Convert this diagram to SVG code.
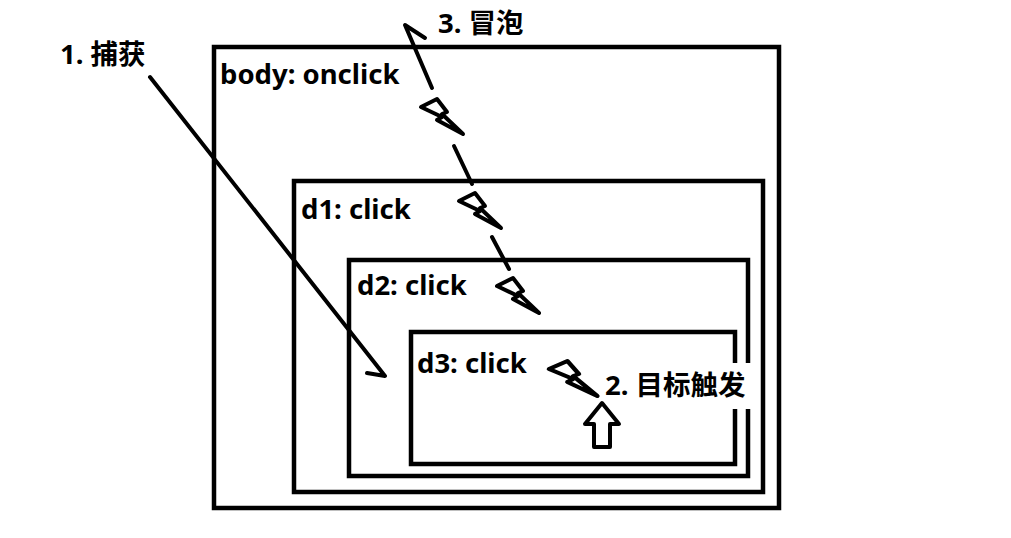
<svg xmlns="http://www.w3.org/2000/svg" width="1011" height="538" viewBox="0 0 1011 538">
<style>
.box{fill:none;stroke:#000;stroke-width:4.5}
.lbl{font-family:"Noto Sans","Noto Sans CJK SC",sans-serif;font-weight:bold;font-size:27.5px;fill:#000}
.ln{fill:none;stroke:#000;stroke-width:4;stroke-linecap:round;stroke-linejoin:round}
.bolt{fill:#fff;stroke:#000;stroke-width:4;stroke-linejoin:round}
</style>
<defs>
<path id="boltshape" d="M0,8 L16,0 L26,13 L21,15 L42,35 L16,21 L21,18 Z"/>
</defs>
<rect width="1011" height="538" fill="#fff"/>
<g id="body">
<rect class="box" x="214" y="47" width="565" height="461"/>
<text class="lbl" x="220" y="84">body: onclick</text>
</g>
<g id="d1">
<rect class="box" x="294" y="181" width="469" height="311"/>
<text class="lbl" x="301" y="219">d1: click</text>
</g>
<g id="d2">
<rect class="box" x="349" y="260" width="399" height="216"/>
<text class="lbl" x="357" y="295">d2: click</text>
</g>
<g id="d3">
<rect class="box" x="411" y="332" width="324" height="132"/>
<text class="lbl" x="417" y="373">d3: click</text>
</g>
<g id="label-capture">
<text class="lbl" x="60" y="64">1. 捕获</text>
</g>
<g id="label-bubble">
<text class="lbl" x="438" y="33">3. 冒泡</text>
</g>
<g id="label-target">
<rect x="600" y="363" width="152" height="46" fill="#fff"/>
<text class="lbl" x="605" y="395">2. 目标触发</text>
</g>
<g id="connectors">
<path class="ln" d="M150,77 L385,376 L367,373"/>
<path class="ln" d="M425,38 L405,25 L432,88"/>
<line class="ln" x1="454" y1="146" x2="472" y2="184"/>
<line class="ln" x1="492" y1="237" x2="509" y2="269"/>
<use href="#boltshape" class="bolt" transform="translate(421,99)"/>
<use href="#boltshape" class="bolt" transform="translate(459,193)"/>
<use href="#boltshape" class="bolt" transform="translate(497,278)"/>
<use href="#boltshape" class="bolt" transform="translate(549,361) scale(1.15,1)"/>
<path class="bolt" d="M602,403 L619,424 L610,424 L610,447 L594,447 L594,424 L585,424 Z"/>
</g>
</svg>
